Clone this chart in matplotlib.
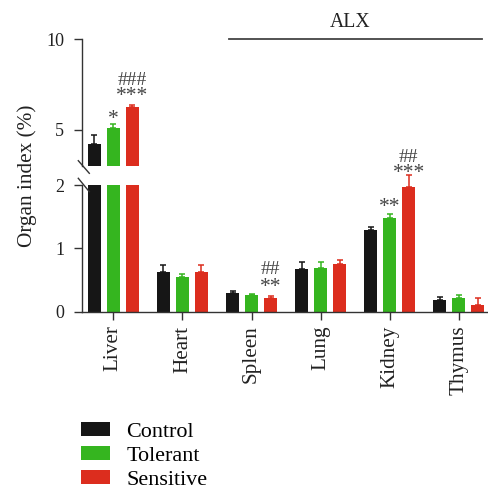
import matplotlib
matplotlib.use("Agg")
import matplotlib.pyplot as plt
import numpy as np
from matplotlib.lines import Line2D
from matplotlib.patches import Patch

plt.rcParams['font.family'] = ['Liberation Serif', 'DejaVu Serif']

organs = ["Liver", "Heart", "Spleen", "Lung", "Kidney", "Thymus"]
groups = ["Control", "Tolerant", "Sensitive"]
control = [4.19, 0.62, 0.29, 0.67, 1.29, 0.19]
control_err = [0.49, 0.11, 0.03, 0.11, 0.05, 0.04]
tolerant = [5.09, 0.55, 0.26, 0.69, 1.48, 0.21]
tolerant_err = [0.19, 0.05, 0.02, 0.09, 0.07, 0.05]
sensitive = [6.23, 0.63, 0.22, 0.75, 1.97, 0.11]
sensitive_err = [0.12, 0.10, 0.03, 0.07, 0.18, 0.10]
colors = ["#161616", "#35b51f", "#dc2d1e"]

# significance marks: (organ index, group index, text, y value)
marks = [
    (0, 1, "*", 5.85), (0, 2, "***", 7.14), (0, 2, "###", 7.79),
    (2, 2, "**", 0.458), (2, 2, "##", 0.685),
    (4, 1, "**", 1.736), (4, 2, "***", 2.27), (4, 2, "##", 2.46),
]

W, H = 489, 493
fig = plt.figure(figsize=(W / 100, H / 100), dpi=100)

def fx(px): return px / W
def fy(py): return 1 - py / H

left, right = 82.3, 488.5
ax_top = fig.add_axes([fx(left), fy(165.7), fx(right - left), fy(39) - fy(165.7)])
ax_bot = fig.add_axes([fx(left), fy(311.7), fx(right - left), fy(185) - fy(311.7)])

x = np.arange(len(organs))
bw = 0.184
offs = [-0.275, 0.0, 0.275]
series = [control, tolerant, sensitive]
errs = [control_err, tolerant_err, sensitive_err]
lc = "#333333"

for ax in (ax_top, ax_bot):
    for gi in range(3):
        vals = np.array(series[gi])
        ax.bar(x + offs[gi], vals, width=bw, color=colors[gi], zorder=2)
    ax.set_xlim(-0.449, 5.43)
    for s in ("top", "right"):
        ax.spines[s].set_visible(False)
    for s in ("left", "bottom"):
        ax.spines[s].set_color(lc)
        ax.spines[s].set_linewidth(1.0)
    ax.tick_params(axis="y", length=6, width=1.0, color=lc, labelsize=13, pad=7, labelcolor="#222222")

for gi in range(3):
    vals = np.array(series[gi])
    e = np.array(errs[gi])
    top_mask = vals >= 3
    bot_mask = ~top_mask
    xs = x + offs[gi]
    ax_top.errorbar(xs[top_mask], vals[top_mask], yerr=[np.zeros(top_mask.sum()), e[top_mask]],
                    fmt="none", ecolor=colors[gi], elinewidth=1.1, capsize=2.3, capthick=1.1, zorder=3)
    eb = ax_bot.errorbar(xs[bot_mask], vals[bot_mask], yerr=[np.zeros(bot_mask.sum()), e[bot_mask]],
                         fmt="none", ecolor=colors[gi], elinewidth=1.1, capsize=2.3, capthick=1.1, zorder=3)
    for art in list(eb.lines[1]) + list(eb.lines[2]):
        art.set_clip_on(False)

ax_top.set_ylim(3, 10)
ax_top.set_yticks([5, 10])
ax_top.spines["bottom"].set_visible(False)
ax_top.tick_params(axis="x", bottom=False, labelbottom=False)

ax_bot.set_ylim(0, 2)
ax_bot.set_yticks([0, 1, 2])
ax_bot.set_xticks(x)
ax_bot.set_xticklabels(organs, rotation=90, fontsize=15.2, color="#222222")
ax_bot.tick_params(axis="x", length=6, width=1.0, color=lc, pad=4)

for oi, gi, txt, yv in marks:
    ax = ax_top if yv >= 3 and oi == 0 else ax_bot
    star = txt.startswith("*")
    ax.annotate(txt, (x[oi] + offs[gi], yv), xytext=(0, -3.8 if star else -1.0),
                textcoords="offset points", ha="center", va="center",
                fontsize=15.5 if star else 14, color="#444444", annotation_clip=False)

# ALX bracket
ax_top.plot([1.68, 5.34], [10, 10], color="#444444", lw=1.3, clip_on=False)
ax_top.text(3.43, 10.92, "ALX", ha="center", va="center", fontsize=14.2, color="#222222")

# axis break marks
for (x0, y0, x1, y1) in [(78.3, 160.7, 89.3, 173.3), (78.3, 178.3, 89.3, 191.7)]:
    fig.add_artist(Line2D([fx(x0), fx(x1)], [fy(y0), fy(y1)], color=lc, lw=1.0))

fig.text(fx(26.7), (fy(39) + fy(311.7)) / 2, "Organ index (%)", rotation=90,
         ha="center", va="center", fontsize=15.3, color="#222222")

handles = [Patch(facecolor=c, edgecolor="none") for c in colors]
fig.legend(handles, groups, loc="upper left", bbox_to_anchor=(fx(81), fy(422)),
           frameon=False, fontsize=15.9, handlelength=1.33, handleheight=0.6,
           handletextpad=0.72, labelspacing=0.2, borderpad=0, borderaxespad=0)

fig.savefig("out.png", dpi=100)
